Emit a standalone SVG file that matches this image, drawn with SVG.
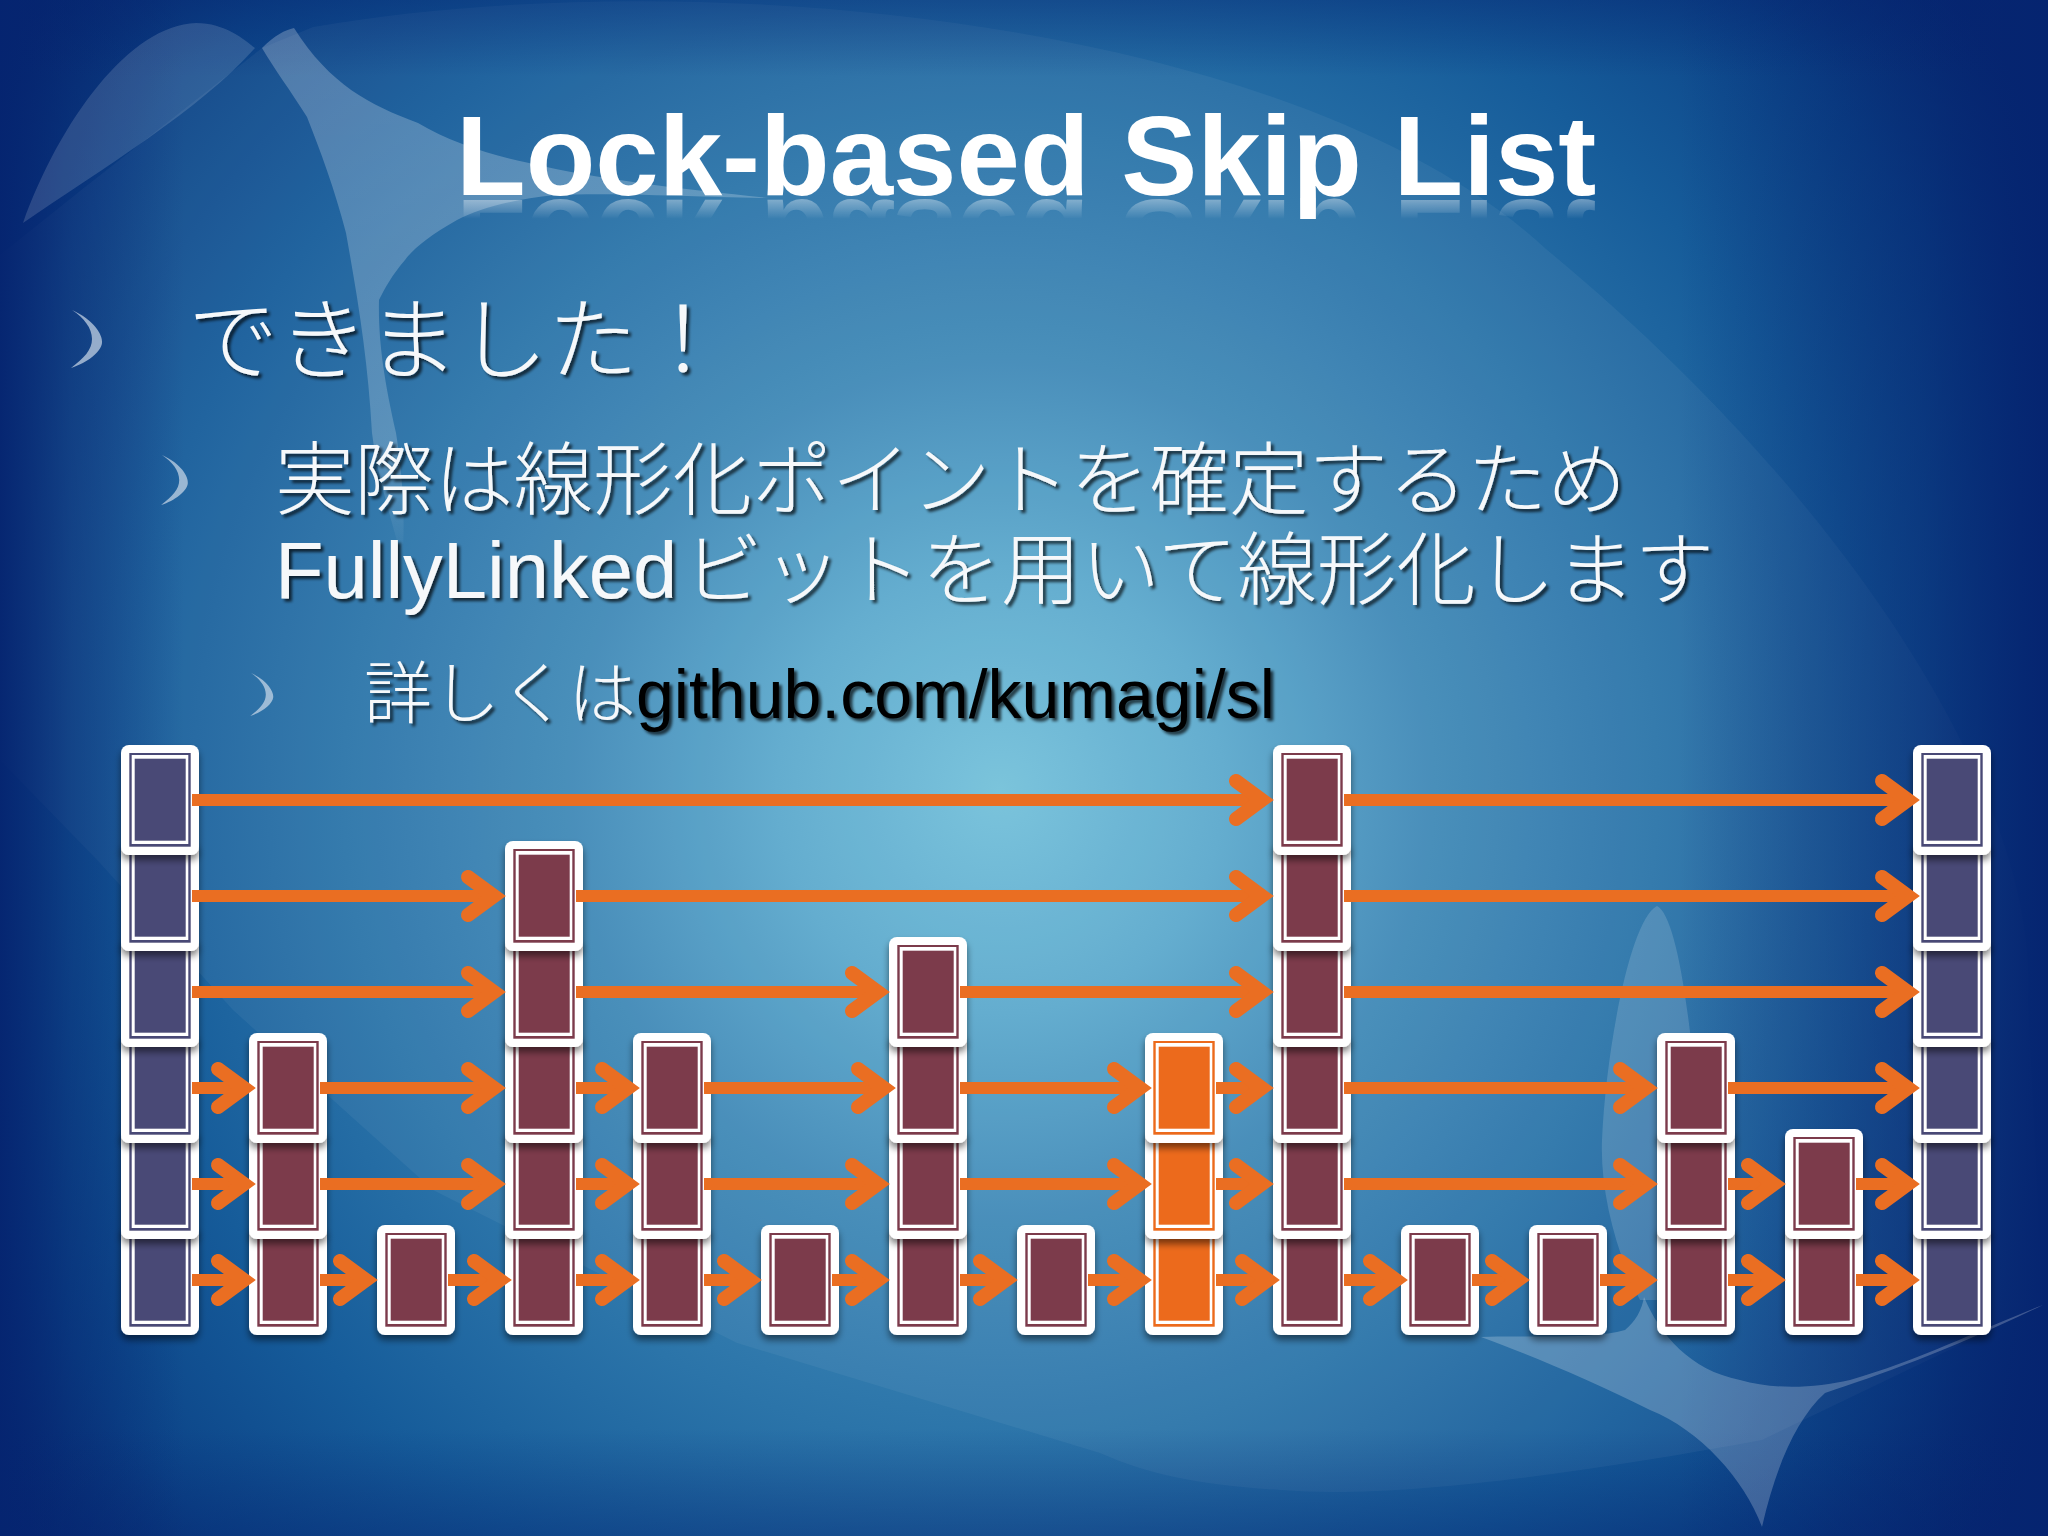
<svg xmlns="http://www.w3.org/2000/svg" width="2048" height="1536" viewBox="0 0 2048 1536">
<style>
.sans{font-family:"Liberation Sans","Noto Sans CJK JP",sans-serif}
.t{fill:#f6f8fa;filter:url(#ts);font-weight:300}
.c{filter:url(#sh)}
.a{stroke:#ea6e22;stroke-width:12;fill:none;marker-end:url(#ah)}
.sw{fill:#fff}
</style>
<defs>
<radialGradient id="bg" gradientUnits="userSpaceOnUse" cx="1000" cy="790" r="1240">
<stop offset="0" stop-color="#74c1da"/><stop offset=".18" stop-color="#5ca9cd"/><stop offset=".35" stop-color="#4089b7"/><stop offset=".53" stop-color="#2b74a9"/><stop offset=".71" stop-color="#165c9a"/><stop offset=".87" stop-color="#0c4488"/><stop offset="1" stop-color="#082a70"/>
</radialGradient>
<linearGradient id="vl" x1="0" x2="1" y1="0" y2="0">
<stop offset="0" stop-color="#052470" stop-opacity=".95"/><stop offset=".035" stop-color="#052470" stop-opacity=".45"/><stop offset=".09" stop-color="#052470" stop-opacity="0"/><stop offset=".82" stop-color="#052470" stop-opacity="0"/><stop offset=".94" stop-color="#052470" stop-opacity=".55"/><stop offset="1" stop-color="#052470" stop-opacity=".98"/>
</linearGradient>
<linearGradient id="vt" x1="0" x2="0" y1="0" y2="1">
<stop offset="0" stop-color="#052470" stop-opacity=".4"/><stop offset=".05" stop-color="#052470" stop-opacity="0"/><stop offset=".93" stop-color="#052470" stop-opacity="0"/><stop offset="1" stop-color="#052470" stop-opacity=".4"/>
</linearGradient>
<linearGradient id="fade" x1="0" x2="0" y1="0" y2="1">
<stop offset="0" stop-color="#fff" stop-opacity=".24"/><stop offset=".8" stop-color="#fff" stop-opacity=".2"/><stop offset="1" stop-color="#fff" stop-opacity="0"/>
</linearGradient>
<linearGradient id="rg" gradientUnits="userSpaceOnUse" x1="0" x2="0" y1="199" y2="219">
<stop offset="0" stop-color="#fff" stop-opacity=".38"/><stop offset="1" stop-color="#fff" stop-opacity="0"/>
</linearGradient>
<mask id="rm" maskUnits="userSpaceOnUse" x="0" y="198" width="2048" height="30"><rect x="0" y="198" width="2048" height="30" fill="url(#rg)"/></mask>
<filter id="sh" x="-20%" y="-20%" width="140%" height="150%"><feGaussianBlur in="SourceAlpha" stdDeviation="3.5"/><feOffset dy="5"/><feComponentTransfer><feFuncA type="linear" slope=".5"/></feComponentTransfer><feMerge><feMergeNode/><feMergeNode in="SourceGraphic"/></feMerge></filter>
<filter id="ts" x="-5%" y="-20%" width="110%" height="150%"><feGaussianBlur in="SourceAlpha" stdDeviation="1.6"/><feOffset dx="3" dy="3"/><feComponentTransfer><feFuncA type="linear" slope=".7"/></feComponentTransfer><feMerge><feMergeNode/><feMergeNode in="SourceGraphic"/></feMerge></filter>
<marker id="ah" markerUnits="userSpaceOnUse" viewBox="-40 -30 60 60" markerWidth="60" markerHeight="60" refX="0" refY="0" orient="auto"><path d="M-27,-19 L-1,0 L-27,19" fill="none" stroke="#ea6e22" stroke-width="14" stroke-linecap="round" stroke-linejoin="miter"/></marker>
<g id="m"><rect width="78" height="110" rx="8" fill="#fff"/><rect x="8.3" y="8" width="61.4" height="93.7" fill="#7c3b4c"/><rect x="10.7" y="10" width="56.6" height="89" fill="#fff"/><rect x="13.7" y="13.7" width="51" height="82" fill="#7c3b4c"/></g>
<g id="p"><rect width="78" height="110" rx="8" fill="#fff"/><rect x="8.3" y="8" width="61.4" height="93.7" fill="#4a4a76"/><rect x="10.7" y="10" width="56.6" height="89" fill="#fff"/><rect x="13.7" y="13.7" width="51" height="82" fill="#4a4a76"/></g>
<g id="o"><rect width="78" height="110" rx="8" fill="#fff"/><rect x="8.3" y="8" width="61.4" height="93.7" fill="#ec6a1a"/><rect x="10.7" y="10" width="56.6" height="89" fill="#fff"/><rect x="13.7" y="13.7" width="51" height="82" fill="#ec6a1a"/></g>
<path id="bl" d="M0,0 C22,10 31,25 30,33 C29,42 15,53 -1,58 C12,48 20,40 20,29 C20,18 12,8 0,0Z" fill="#d3deec" fill-opacity=".68"/>
</defs>

<g id="background">
<rect width="2048" height="1536" fill="url(#bg)"/>
<path class="sw" fill-opacity=".05" d="M0,255 L85,187 L262,48 L313,27 C700,-40 1300,20 1546,249 C1850,500 2040,800 2028,1000 L2043,1305 L1762,1440 C1600,1470 1400,1500 1281,1490 C1200,1485 1150,1475 1100,1453 L737,1343 L433,1190 L233,1010 L100,863 L0,760Z"/>
<rect width="2048" height="1536" fill="url(#vl)"/>
<rect width="2048" height="1536" fill="url(#vt)"/>
<path class="sw" fill-opacity=".14" d="M23,223 C60,120 130,25 196,23 C225,23 245,40 255,48 C200,110 100,170 23,223Z"/>
<path fill="url(#fade)" d="M262,48 C275,35 285,30 294,28 C330,85 370,105 418,123 C450,142 490,155 529,163 C600,180 690,190 770,198 L718,197 C660,195 600,193 555,195 C510,200 480,208 457,220 C430,235 412,250 405,260 C392,275 385,288 379,300 C378,340 384,380 396,433 C402,470 406,520 402,560 C392,520 378,480 372,433 C368,360 358,300 346,233 C335,190 320,150 307,117 C290,90 275,70 262,48Z"/>
<path class="sw" fill-opacity=".15" d="M1657,906 C1675,915 1690,1000 1700,1140 L1735,1300 L1640,1300 C1615,1250 1600,1190 1602,1140 C1606,1050 1630,920 1657,906Z"/>
<path class="sw" fill-opacity=".22" d="M1481,1337 C1530,1335 1590,1340 1625,1330 C1635,1322 1642,1310 1644,1297 C1660,1335 1690,1370 1740,1380 C1775,1390 1815,1388 1850,1380 C1920,1360 1990,1325 2043,1305 C1950,1350 1880,1375 1825,1393 C1795,1420 1775,1470 1762,1527 C1745,1480 1700,1430 1650,1410 C1590,1380 1530,1355 1481,1337Z"/>
</g>

<g id="title">
<text id="title-text" class="sans" x="456" y="195" font-size="114" font-weight="700" fill="#fff">Lock-based Skip List</text>
<g mask="url(#rm)"><use href="#title-text" transform="matrix(1 0 0 -1 0 395)"/></g>
</g>

<g id="bullets">
<use href="#bl" transform="translate(72,310)"/>
<use href="#bl" transform="translate(162,455) scale(.86)"/>
<use href="#bl" transform="translate(251,673) scale(.74)"/>
</g>

<g id="body">
<text class="t sans" x="188" y="372" font-size="90">できました！</text>
<text class="t sans" x="275" y="508" font-size="79.5">実際は線形化ポイントを確定するため</text>
<text class="t sans" x="275" y="598" font-size="79.5">FullyLinked<tspan dx="6">ビットを用いて線形化します</tspan></text>
<text class="t sans" x="364" y="718" font-size="68">詳しくは<tspan fill="#050505">github.com/kumagi/sl</tspan></text>
</g>

<g id="node-0"><use class="c" href="#p" x="121" y="1225"/><use class="c" href="#p" x="121" y="1129"/><use class="c" href="#p" x="121" y="1033"/><use class="c" href="#p" x="121" y="937"/><use class="c" href="#p" x="121" y="841"/><use class="c" href="#p" x="121" y="745"/></g>
<g id="node-1"><use class="c" href="#m" x="249" y="1225"/><use class="c" href="#m" x="249" y="1129"/><use class="c" href="#m" x="249" y="1033"/></g>
<g id="node-2"><use class="c" href="#m" x="377" y="1225"/></g>
<g id="node-3"><use class="c" href="#m" x="505" y="1225"/><use class="c" href="#m" x="505" y="1129"/><use class="c" href="#m" x="505" y="1033"/><use class="c" href="#m" x="505" y="937"/><use class="c" href="#m" x="505" y="841"/></g>
<g id="node-4"><use class="c" href="#m" x="633" y="1225"/><use class="c" href="#m" x="633" y="1129"/><use class="c" href="#m" x="633" y="1033"/></g>
<g id="node-5"><use class="c" href="#m" x="761" y="1225"/></g>
<g id="node-6"><use class="c" href="#m" x="889" y="1225"/><use class="c" href="#m" x="889" y="1129"/><use class="c" href="#m" x="889" y="1033"/><use class="c" href="#m" x="889" y="937"/></g>
<g id="node-7"><use class="c" href="#m" x="1017" y="1225"/></g>
<g id="node-8"><use class="c" href="#o" x="1145" y="1225"/><use class="c" href="#o" x="1145" y="1129"/><use class="c" href="#o" x="1145" y="1033"/></g>
<g id="node-9"><use class="c" href="#m" x="1273" y="1225"/><use class="c" href="#m" x="1273" y="1129"/><use class="c" href="#m" x="1273" y="1033"/><use class="c" href="#m" x="1273" y="937"/><use class="c" href="#m" x="1273" y="841"/><use class="c" href="#m" x="1273" y="745"/></g>
<g id="node-10"><use class="c" href="#m" x="1401" y="1225"/></g>
<g id="node-11"><use class="c" href="#m" x="1529" y="1225"/></g>
<g id="node-12"><use class="c" href="#m" x="1657" y="1225"/><use class="c" href="#m" x="1657" y="1129"/><use class="c" href="#m" x="1657" y="1033"/></g>
<g id="node-13"><use class="c" href="#m" x="1785" y="1225"/><use class="c" href="#m" x="1785" y="1129"/></g>
<g id="node-14"><use class="c" href="#p" x="1913" y="1225"/><use class="c" href="#p" x="1913" y="1129"/><use class="c" href="#p" x="1913" y="1033"/><use class="c" href="#p" x="1913" y="937"/><use class="c" href="#p" x="1913" y="841"/><use class="c" href="#p" x="1913" y="745"/></g>

<g id="connectors">
<line class="a" x1="192" y1="800" x2="1263" y2="800"/><line class="a" x1="1344" y1="800" x2="1909" y2="800"/>
<line class="a" x1="192" y1="896" x2="495" y2="896"/><line class="a" x1="576" y1="896" x2="1263" y2="896"/><line class="a" x1="1344" y1="896" x2="1909" y2="896"/>
<line class="a" x1="192" y1="992" x2="495" y2="992"/><line class="a" x1="576" y1="992" x2="879" y2="992"/><line class="a" x1="960" y1="992" x2="1263" y2="992"/><line class="a" x1="1344" y1="992" x2="1909" y2="992"/>
<line class="a" x1="192" y1="1088" x2="245" y2="1088"/><line class="a" x1="320" y1="1088" x2="495" y2="1088"/><line class="a" x1="576" y1="1088" x2="629" y2="1088"/><line class="a" x1="704" y1="1088" x2="885" y2="1088"/><line class="a" x1="960" y1="1088" x2="1141" y2="1088"/><line class="a" x1="1216" y1="1088" x2="1263" y2="1088"/><line class="a" x1="1344" y1="1088" x2="1647" y2="1088"/><line class="a" x1="1728" y1="1088" x2="1909" y2="1088"/>
<line class="a" x1="192" y1="1184" x2="245" y2="1184"/><line class="a" x1="320" y1="1184" x2="495" y2="1184"/><line class="a" x1="576" y1="1184" x2="629" y2="1184"/><line class="a" x1="704" y1="1184" x2="879" y2="1184"/><line class="a" x1="960" y1="1184" x2="1141" y2="1184"/><line class="a" x1="1216" y1="1184" x2="1263" y2="1184"/><line class="a" x1="1344" y1="1184" x2="1647" y2="1184"/><line class="a" x1="1728" y1="1184" x2="1775" y2="1184"/><line class="a" x1="1856" y1="1184" x2="1909" y2="1184"/>
<line class="a" x1="192" y1="1280" x2="245" y2="1280"/><line class="a" x1="320" y1="1280" x2="367" y2="1280"/><line class="a" x1="448" y1="1280" x2="501" y2="1280"/><line class="a" x1="576" y1="1280" x2="629" y2="1280"/><line class="a" x1="704" y1="1280" x2="751" y2="1280"/><line class="a" x1="832" y1="1280" x2="879" y2="1280"/><line class="a" x1="960" y1="1280" x2="1007" y2="1280"/><line class="a" x1="1088" y1="1280" x2="1141" y2="1280"/><line class="a" x1="1216" y1="1280" x2="1269" y2="1280"/><line class="a" x1="1344" y1="1280" x2="1397" y2="1280"/><line class="a" x1="1472" y1="1280" x2="1519" y2="1280"/><line class="a" x1="1600" y1="1280" x2="1647" y2="1280"/><line class="a" x1="1728" y1="1280" x2="1775" y2="1280"/><line class="a" x1="1856" y1="1280" x2="1909" y2="1280"/>
</g>
</svg>
